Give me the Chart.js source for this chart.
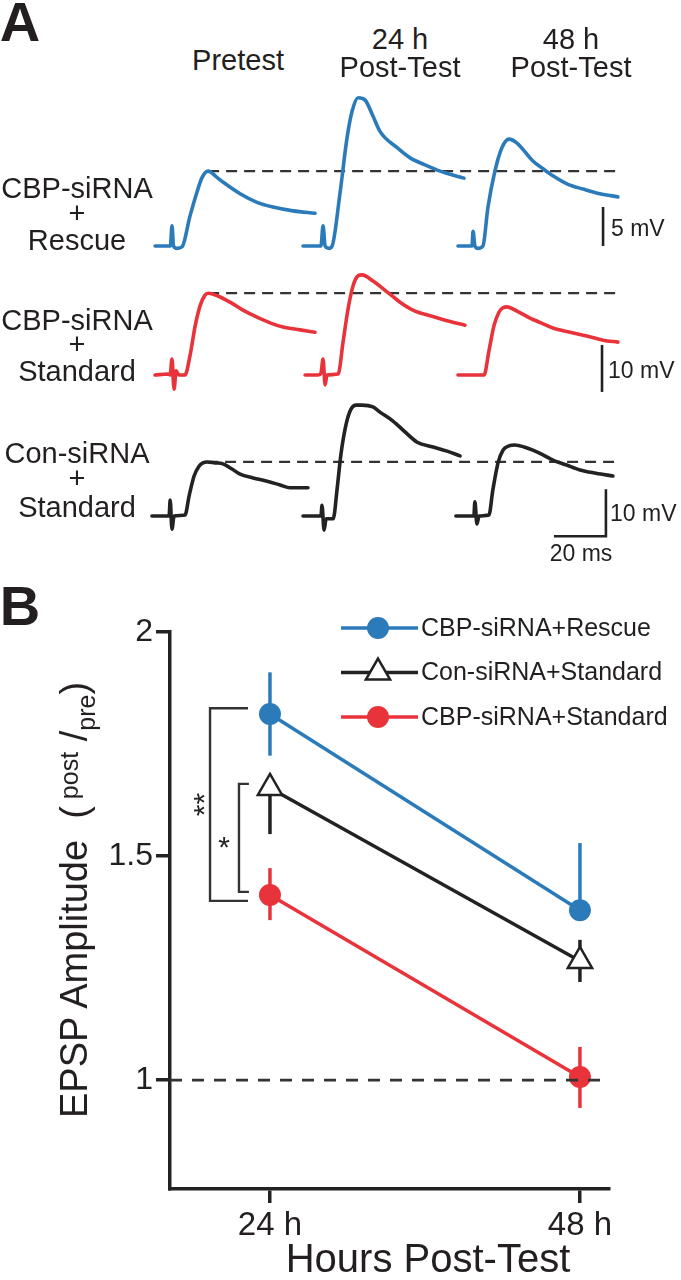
<!DOCTYPE html>
<html>
<head>
<meta charset="utf-8">
<script src="https://cdn.jsdelivr.net/npm/chart.js@4.4.0/dist/chart.umd.min.js"></script>
<style>
  html, body { margin: 0; padding: 0; background: #fff; }
  body { width: 681px; height: 1280px; position: relative; overflow: hidden;
         font-family: "Liberation Sans", Arial, Helvetica, sans-serif; color: #231f20; }
  canvas { position: absolute; }
  .lbl { position: absolute; line-height: 1; white-space: nowrap; }
  .ytitle { position: absolute; line-height: 1; white-space: nowrap; font-size: 38px;
            transform: translate(-50%, -50%) rotate(-90deg); }
  .ytitle .small { font-size: 25px; position: relative; }
</style>
</head>
<body>
<canvas id="rowRescue"></canvas>
<canvas id="rowStandard"></canvas>
<canvas id="rowControl"></canvas>
<canvas id="summary"></canvas>

<script>
// ---- Panel A: example EPSP sweeps, [time ms from sweep start, mV above baseline] ----
const rescuePre = [[0.4,0],[5.4,0],[6.3,0],[6.9,2.6],[7.5,0],[8.8,-0.3],[10.8,-0.1],[13.8,3.8],[16.5,6.9],[18.5,8.8],[20.8,9.6],[24.2,8.8],[26.5,8.2],[33.1,6.7],[39.6,5.6],[45.8,5.0],[53.5,4.5],[61.9,4.2]];
const rescue24 = [[-0.4,0],[5.4,0],[6.5,0],[7.3,2.6],[8.1,0],[9.6,-0.3],[10.8,0],[13.8,6.7],[16.5,13.8],[18.5,17.3],[20.8,19.0],[23.5,18.7],[26.2,16.9],[29.2,14.7],[35.8,12.6],[40.8,11.3],[46.5,10.4],[52.3,9.6],[61.5,8.7]];
const rescue48 = [[0.4,0],[5.0,0],[5.8,0],[6.2,1.9],[6.9,0],[8.1,-0.3],[10.0,0],[11.9,4.9],[14.6,9.6],[17.3,12.6],[20.0,13.7],[23.1,13.2],[29.2,10.9],[33.1,9.9],[36.9,9.0],[42.7,7.9],[48.5,7.3],[55.0,6.7],[61.9,6.3]];

const standardPre = [[0.4,0],[5.4,0.2],[6.2,0],[6.9,3.4],[7.7,-3.0],[8.5,0.9],[9.6,0],[11.9,0],[13.8,4.0],[15.8,10.4],[17.7,14.7],[19.6,17.0],[20.8,17.4],[24.6,16.8],[29.2,15.5],[34.2,13.8],[39.6,12.3],[44.6,11.1],[49.6,10.2],[56.2,9.6],[61.9,9.1]];
const standard24 = [[0.4,0],[5.4,0],[6.5,0.4],[7.3,3.4],[8.1,-2.1],[8.8,0],[13.1,0.2],[15.0,7.0],[16.9,14.0],[18.8,18.9],[20.8,21.1],[22.3,21.3],[26.5,20.0],[31.9,17.7],[36.9,15.5],[42.7,13.6],[48.5,12.6],[55.4,11.5],[61.9,10.6]];
const standard48 = [[0.4,0],[10.4,0],[12.3,5.1],[14.2,10.4],[16.2,13.4],[17.7,14.3],[19.2,14.5],[23.1,13.6],[28.1,12.1],[32.3,11.1],[36.9,10.0],[43.5,9.1],[50.0,8.3],[56.2,7.4],[61.9,7.0]];

const controlPre = [[-0.8,0],[5.0,0],[5.8,0],[6.2,3.4],[6.9,-2.8],[7.7,0],[11.9,0.2],[13.5,4.3],[15.4,8.5],[17.3,10.6],[18.8,11.3],[20.4,11.5],[23.5,11.3],[26.5,11.1],[30.0,10.0],[33.1,8.9],[38.1,8.1],[43.5,7.4],[48.5,6.6],[52.3,6.0],[59.2,6.0]];
const control24 = [[-0.4,0],[5.4,0],[6.5,0],[6.9,2.3],[7.7,-3.0],[8.5,-0.6],[11.2,-0.6],[12.7,5.7],[14.2,13.2],[16.2,19.6],[18.1,22.8],[20.0,23.6],[22.3,23.6],[26.5,23.2],[29.2,22.1],[34.2,20.2],[38.8,17.9],[43.5,15.7],[49.6,14.7],[55.0,13.8],[60.0,12.8]];
const control48 = [[-0.4,0],[5.8,0],[6.5,0],[6.9,3.0],[7.7,-1.7],[8.5,0],[12.3,0.2],[13.8,5.5],[15.8,11.3],[17.7,14.0],[20.0,14.9],[22.3,15.1],[25.8,14.7],[29.2,14.0],[33.1,13.0],[36.9,11.9],[41.9,10.9],[47.3,9.8],[53.5,9.1],[60.0,8.5]];

const sweepTitles = ['Pretest', '24 h|Post-Test', '48 h|Post-Test'];
const rowTitles = [['CBP-siRNA', '+', 'Rescue'], ['CBP-siRNA', '+', 'Standard'], ['Con-siRNA', '+', 'Standard']];

// ---- Panel B: EPSP amplitude (post/pre), mean with SEM ----
const hours = [24, 48];
const seriesLabels = ['CBP-siRNA+Rescue', 'Con-siRNA+Standard', 'CBP-siRNA+Standard'];
const rescueMean = [1.817, 1.379];
const rescueErrUp = [0.093, 0.15];
const rescueErrDown = [0.093, 0];
const controlMean = [1.652, 1.266];
const controlErrUp = [0, 0.047];
const controlErrDown = [0.103, 0.047];
const standardMean = [1.413, 1.007];
const standardErrUp = [0.06, 0.067];
const standardErrDown = [0.056, 0.069];
const yTicks = [1, 1.5, 2];

const BLUE = '#2b7bba', RED = '#e8333b', BLACK = '#222222', INK = '#231f20';

Chart.defaults.font.family = '"Liberation Sans", Arial, Helvetica, sans-serif';
Chart.defaults.color = INK;

// layout of the sweep rows
const ROW_LEFT = 140, ROW_WIDTH = 500, PX_PER_MS = 2.6;
const sweepOffsetMs = [5.4, 63.1, 121.9];
const DASH_END_MS = 183;

function traceRow(id, traces, color, box, bars) {
    const canvas = document.getElementById(id);
    canvas.width = ROW_WIDTH;
    canvas.height = box.height;
    canvas.style.left = ROW_LEFT + 'px';
    canvas.style.top = box.top + 'px';

    const yMax = (box.baseline - box.top) / box.pxPerMv;
    const yMin = -(box.top + box.height - box.baseline) / box.pxPerMv;

    const datasets = traces.map((tr, i) => ({
        data: tr.map(p => ({ x: p[0] + sweepOffsetMs[i], y: p[1] })),
        borderColor: color,
        borderWidth: 3.6,
        pointRadius: 0,
        cubicInterpolationMode: 'monotone',
        borderJoinStyle: 'round',
        borderCapStyle: 'round'
    }));

    // dashed reference at the pretest peak
    const pre = traces[0];
    const peak = Math.max(...pre.map(p => p[1]));
    const peakT = pre.find(p => p[1] === peak)[0] + sweepOffsetMs[0];
    datasets.push({
        data: [{ x: peakT, y: peak }, { x: DASH_END_MS, y: peak }],
        borderColor: '#333',
        borderWidth: 2.2,
        borderDash: [11, 7],
        pointRadius: 0
    });

    // scale bars
    bars.forEach(b => {
        datasets.push({
            data: b,
            borderColor: BLACK,
            borderWidth: 2.6,
            pointRadius: 0
        });
    });

    new Chart(canvas, {
        type: 'line',
        data: { datasets: datasets },
        options: {
            responsive: false,
            animation: false,
            layout: { padding: 0 },
            scales: {
                x: { type: 'linear', display: false, min: 0, max: ROW_WIDTH / PX_PER_MS },
                y: { type: 'linear', display: false, min: yMin, max: yMax }
            },
            plugins: { legend: { display: false }, tooltip: { enabled: false } }
        }
    });
}

traceRow('rowRescue', [rescuePre, rescue24, rescue48], BLUE,
    { top: 80, height: 180, baseline: 246, pxPerMv: 7.8 },
    [[{ x: 178.1, y: 0 }, { x: 178.1, y: 5 }]]);

traceRow('rowStandard', [standardPre, standard24, standard48], RED,
    { top: 262, height: 143, baseline: 375, pxPerMv: 4.7 },
    [[{ x: 177.7, y: -3.6 }, { x: 177.7, y: 6.4 }]]);

traceRow('rowControl', [controlPre, control24, control48], BLACK,
    { top: 398, height: 150, baseline: 516, pxPerMv: 4.7 },
    [[{ x: 179.2, y: 5.7 }, { x: 179.2, y: -4.3 }, { x: 159.2, y: -4.3 }]]);

// ---- Panel B chart ----
const X_MIN = 16.26, X_MAX = 50.25, Y_MIN = 0.757, Y_MAX = 2;

const sigBrackets = [
    { text: '**', x: 19.36, armTo: 22.3, from: 1.83, to: 1.40, rotate: true },
    { text: '*', x: 21.6, armTo: 22.37, from: 1.661, to: 1.42, rotate: false }
];

function points(mean) {
    return hours.map((h, i) => ({ x: h, y: mean[i] }));
}

const errorBars = {
    id: 'errorBars',
    beforeDatasetsDraw(chart) {
        const { ctx, scales: { x, y } } = chart;
        chart.data.datasets.forEach(ds => {
            if (!ds.errUp) return;
            ctx.save();
            ctx.strokeStyle = ds.barColor;
            ctx.lineWidth = 3.5;
            ds.data.forEach((p, i) => {
                const px = x.getPixelForValue(p.x);
                ctx.beginPath();
                ctx.moveTo(px, y.getPixelForValue(p.y + ds.errUp[i]));
                ctx.lineTo(px, y.getPixelForValue(p.y - ds.errDown[i]));
                ctx.stroke();
            });
            ctx.restore();
        });
    }
};

const brackets = {
    id: 'brackets',
    afterDatasetsDraw(chart) {
        const { ctx, scales: { x, y } } = chart;
        ctx.save();
        sigBrackets.forEach(b => {
            const bx = x.getPixelForValue(b.x);
            const ax = x.getPixelForValue(b.armTo);
            const y1 = y.getPixelForValue(b.from);
            const y2 = y.getPixelForValue(b.to);
            ctx.strokeStyle = '#333';
            ctx.lineWidth = 2.4;
            ctx.beginPath();
            ctx.moveTo(ax, y1);
            ctx.lineTo(bx, y1);
            ctx.lineTo(bx, y2);
            ctx.lineTo(ax, y2);
            ctx.stroke();

            ctx.fillStyle = INK;
            ctx.font = '30px "Liberation Sans", Arial, sans-serif';
            ctx.textAlign = 'center';
            ctx.textBaseline = 'alphabetic';
            const cx = bx - 15, cy = (y1 + y2) / 2;
            ctx.save();
            ctx.translate(cx, cy);
            if (b.rotate) ctx.rotate(-Math.PI / 2);
            ctx.fillText(b.text, 0, 19);
            ctx.restore();
        });
        ctx.restore();
    }
};

const legendBox = {
    id: 'legendBox',
    afterDraw(chart) {
        const { ctx } = chart;
        const order = [1, 2, 3];
        ctx.save();
        order.forEach((dsIndex, row) => {
            const ds = chart.data.datasets[dsIndex];
            const yy = 48 + row * 44.5;
            ctx.strokeStyle = ds.borderColor;
            ctx.lineWidth = 3.5;
            ctx.beginPath();
            ctx.moveTo(341, yy);
            ctx.lineTo(418, yy);
            ctx.stroke();
            ctx.fillStyle = ds.pointBackgroundColor;
            ctx.strokeStyle = ds.pointBorderColor;
            ctx.lineWidth = ds.pointBorderWidth;
            Chart.helpers.drawPoint(ctx, {
                pointStyle: ds.pointStyle, radius: ds.pointRadius,
                rotation: 0, borderWidth: ds.pointBorderWidth
            }, 378, yy);
            ctx.fillStyle = INK;
            ctx.font = '25px "Liberation Sans", Arial, sans-serif';
            ctx.textAlign = 'left';
            ctx.textBaseline = 'middle';
            ctx.fillText(ds.label, 421, yy + 1);
        });
        ctx.restore();
    }
};

const summary = document.getElementById('summary');
summary.width = 681;
summary.height = 700;
summary.style.left = '0px';
summary.style.top = '580px';

new Chart(summary, {
    type: 'line',
    data: {
        datasets: [
            {
                label: 'baseline',
                data: [{ x: X_MIN, y: 1 }, { x: 49.9, y: 1 }],
                borderColor: '#333', borderWidth: 2.6, borderDash: [12, 10],
                pointRadius: 0
            },
            {
                label: seriesLabels[0],
                data: points(rescueMean),
                errUp: rescueErrUp, errDown: rescueErrDown, barColor: BLUE,
                borderColor: BLUE, borderWidth: 3.5,
                pointStyle: 'circle', pointRadius: 11, pointBorderWidth: 0,
                pointBackgroundColor: BLUE, pointBorderColor: BLUE
            },
            {
                label: seriesLabels[1],
                data: points(controlMean),
                errUp: controlErrUp, errDown: controlErrDown, barColor: BLACK,
                borderColor: BLACK, borderWidth: 3.5,
                pointStyle: 'triangle', pointRadius: 14, pointBorderWidth: 2.5,
                pointBackgroundColor: '#ffffff', pointBorderColor: BLACK
            },
            {
                label: seriesLabels[2],
                data: points(standardMean),
                errUp: standardErrUp, errDown: standardErrDown, barColor: RED,
                borderColor: RED, borderWidth: 3.5,
                pointStyle: 'circle', pointRadius: 11, pointBorderWidth: 0,
                pointBackgroundColor: RED, pointBorderColor: RED
            }
        ]
    },
    options: {
        responsive: false,
        animation: false,
        layout: { padding: { top: 52, right: 72, left: 0, bottom: 0 } },
        scales: {
            x: {
                type: 'linear', min: X_MIN, max: X_MAX,
                afterBuildTicks: s => { s.ticks = hours.map(v => ({ value: v })); },
                afterFit: s => { s.height = 91; },
                ticks: { callback: v => v + ' h', font: { size: 33 }, color: INK, padding: 3, maxRotation: 0, autoSkip: false },
                grid: { display: true, drawOnChartArea: false, drawTicks: true, tickLength: 14, lineWidth: 3.5, color: BLACK },
                border: { display: true, width: 3.5, color: BLACK }
            },
            y: {
                type: 'linear', min: Y_MIN, max: Y_MAX,
                afterBuildTicks: s => { s.ticks = yTicks.map(v => ({ value: v })); },
                afterFit: s => { s.width = 170; },
                ticks: { callback: v => String(v), font: { size: 32 }, color: INK, padding: 3 },
                grid: { display: true, drawOnChartArea: false, drawTicks: true, tickLength: 14, lineWidth: 3.5, color: BLACK },
                border: { display: true, width: 3.5, color: BLACK }
            }
        },
        plugins: { legend: { display: false }, tooltip: { enabled: false } }
    },
    plugins: [errorBars, brackets, legendBox]
});

// ---- text labels ----
function label(text, x, y, size, opts = {}) {
    const d = document.createElement('div');
    d.className = 'lbl';
    d.textContent = text;
    d.style.fontSize = size + 'px';
    d.style.left = x + 'px';
    d.style.top = y + 'px';
    if (opts.bold) d.style.fontWeight = 'bold';
    const tx = opts.align === 'left' ? '0' : '-50%';
    d.style.transform = `translate(${tx}, -50%)`;
    document.body.appendChild(d);
}

label('A', 20, 22, 56, { bold: true });
label('B', 20, 606, 56, { bold: true });

const headerX = [238, 400, 571];
sweepTitles.forEach((t, i) => {
    const lines = t.split('|');
    if (lines.length === 1) label(lines[0], headerX[i], 60, 29);
    else { label(lines[0], headerX[i], 39, 29); label(lines[1], headerX[i], 67, 29); }
});

const rowLineY = [[188, 213, 240], [320, 344, 371], [453, 478, 507]];
rowTitles.forEach((lines, r) => {
    lines.forEach((t, k) => label(t, 77, rowLineY[r][k], 29));
});

label('5 mV', 611, 228, 23, { align: 'left' });
label('10 mV', 608, 370, 23, { align: 'left' });
label('10 mV', 610, 513, 23, { align: 'left' });
label('20 ms', 581, 553, 23);

label('Hours Post-Test', 428, 1258, 40);

const yt = document.createElement('div');
yt.className = 'ytitle';
yt.style.left = '74px';
yt.style.top = '900px';
yt.innerHTML = 'EPSP Amplitude&nbsp;&nbsp;(<span class="small" style="top:-0.35em">&nbsp;post</span>&nbsp;/<span class="small" style="top:0.3em">pre</span>)';
document.body.appendChild(yt);
</script>
</body>
</html>
